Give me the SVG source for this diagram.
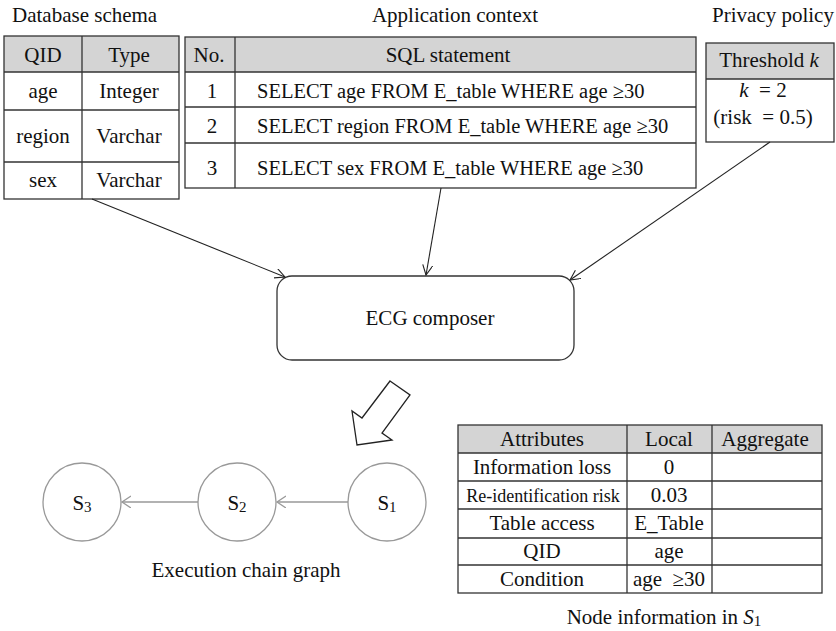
<svg xmlns="http://www.w3.org/2000/svg" width="836" height="631" viewBox="0 0 836 631">
<defs>
<style>
text{font-family:"Liberation Serif","Times New Roman",serif;font-size:21px;fill:#111;}
.c{text-anchor:middle;}
.sql{font-size:20.5px;}
.hd{fill:#d4d4d4;}
.ln{stroke:#333;stroke-width:1.3;fill:none;}
.con{stroke:#222;stroke-width:1.1;fill:none;marker-end:url(#arr);}
.gcon{stroke:#999;stroke-width:1.3;fill:none;marker-end:url(#garr);}
.node{fill:#fff;stroke:#999;stroke-width:1.3;}
.sub{font-size:15px;}
</style>
<marker id="arr" markerUnits="userSpaceOnUse" markerWidth="12" markerHeight="12" refX="10" refY="5" orient="auto">
<path d="M0,0 L10,5 L0,10" fill="none" stroke="#222" stroke-width="1.1"/>
</marker>
<marker id="garr" markerUnits="userSpaceOnUse" markerWidth="12" markerHeight="14" refX="9" refY="6" orient="auto">
<path d="M0,0 L9,6 L0,12" fill="none" stroke="#999" stroke-width="1.3"/>
</marker>
</defs>
<rect width="836" height="631" fill="#fff"/>

<!-- Database schema -->
<g id="db-schema">
<text x="12" y="22">Database schema</text>
<rect x="4" y="36" width="175" height="36" class="hd"/>
<rect x="4" y="36" width="175" height="163" class="ln"/>
<line x1="4" y1="72" x2="179" y2="72" class="ln"/>
<line x1="4" y1="110" x2="179" y2="110" class="ln"/>
<line x1="4" y1="162" x2="179" y2="162" class="ln"/>
<line x1="82" y1="36" x2="82" y2="199" class="ln"/>
<text x="43" y="62" class="c">QID</text>
<text x="129" y="62" class="c">Type</text>
<text x="43" y="98" class="c">age</text>
<text x="129" y="98" class="c">Integer</text>
<text x="43" y="143" class="c">region</text>
<text x="129" y="143" class="c">Varchar</text>
<text x="43" y="187" class="c">sex</text>
<text x="129" y="187" class="c">Varchar</text>
</g>

<!-- Application context -->
<g id="app-context">
<text x="455" y="22" class="c">Application context</text>
<rect x="185" y="37" width="511" height="35" class="hd"/>
<rect x="185" y="37" width="511" height="151" class="ln"/>
<line x1="185" y1="72" x2="696" y2="72" class="ln"/>
<line x1="185" y1="107" x2="696" y2="107" class="ln"/>
<line x1="185" y1="143" x2="696" y2="143" class="ln"/>
<line x1="235" y1="37" x2="235" y2="188" class="ln"/>
<text x="209" y="62" class="c">No.</text>
<text x="448" y="62" class="c">SQL statement</text>
<text x="212" y="98" class="c">1</text>
<text x="212" y="133" class="c">2</text>
<text x="212" y="175" class="c">3</text>
<text x="257" y="98" class="sql">SELECT age FROM E_table WHERE age ≥30</text>
<text x="257" y="133" class="sql">SELECT region FROM E_table WHERE age ≥30</text>
<text x="257" y="175" class="sql">SELECT sex FROM E_table WHERE age ≥30</text>
</g>

<!-- Privacy policy -->
<g id="privacy-policy">
<text x="773" y="22" class="c">Privacy policy</text>
<rect x="706" y="43" width="128" height="36" class="hd"/>
<rect x="706" y="43" width="128" height="99" class="ln"/>
<line x1="706" y1="79" x2="834" y2="79" class="ln"/>
<text x="769" y="67" class="c">Threshold <tspan font-style="italic">k</tspan></text>
<text x="763" y="97" class="c" xml:space="preserve"><tspan font-style="italic">k</tspan>  = 2</text>
<text x="763" y="124" class="c" xml:space="preserve">(risk  = 0.5)</text>
</g>

<!-- ECG composer -->
<g id="ecg-composer">
<rect x="277" y="276" width="297" height="84" rx="15" ry="15" fill="#fff" stroke="#333" stroke-width="1.3"/>
<text x="430" y="325" class="c">ECG composer</text>
</g>

<!-- Hollow arrow -->
<g id="flow-arrow">
<polygon points="390,381 410,395 382,433 392,440 357,445 352,411 362,418" fill="#fff" stroke="#222" stroke-width="1.3" stroke-linejoin="miter"/>
</g>

<!-- Execution chain graph nodes -->
<g id="node-s3">
<circle cx="82" cy="502" r="39" class="node"/>
<text x="82" y="510" class="c">S<tspan class="sub" dy="2">3</tspan></text>
</g>
<g id="node-s2">
<circle cx="237" cy="502" r="39" class="node"/>
<text x="237" y="510" class="c">S<tspan class="sub" dy="2">2</tspan></text>
</g>
<g id="node-s1">
<circle cx="387" cy="502" r="39" class="node"/>
<text x="387" y="510" class="c">S<tspan class="sub" dy="2">1</tspan></text>
</g>
<g id="ecg-caption">
<text x="246" y="577" class="c">Execution chain graph</text>
</g>

<!-- Node information table -->
<g id="node-info">
<rect x="458" y="425" width="364" height="28" class="hd"/>
<rect x="458" y="425" width="364" height="168" class="ln"/>
<line x1="458" y1="453" x2="822" y2="453" class="ln"/>
<line x1="458" y1="481" x2="822" y2="481" class="ln"/>
<line x1="458" y1="509" x2="822" y2="509" class="ln"/>
<line x1="458" y1="538" x2="822" y2="538" class="ln"/>
<line x1="458" y1="565" x2="822" y2="565" class="ln"/>
<line x1="627" y1="425" x2="627" y2="593" class="ln"/>
<line x1="712" y1="425" x2="712" y2="593" class="ln"/>
<text x="542" y="446" class="c">Attributes</text>
<text x="669" y="446" class="c">Local</text>
<text x="765" y="446" class="c">Aggregate</text>
<text x="542" y="474" class="c">Information loss</text>
<text x="669" y="474" class="c">0</text>
<text x="543" y="502" class="c" style="font-size:18px">Re-identification risk</text>
<text x="669" y="502" class="c">0.03</text>
<text x="542" y="530" class="c">Table access</text>
<text x="669" y="530" class="c">E_Table</text>
<text x="542" y="558" class="c">QID</text>
<text x="669" y="558" class="c">age</text>
<text x="542" y="586" class="c">Condition</text>
<text x="669" y="586" class="c" xml:space="preserve">age  ≥30</text>
<text x="664" y="624" class="c">Node information in <tspan font-style="italic">S</tspan><tspan class="sub" dy="2">1</tspan></text>
</g>

<!-- Connectors -->
<g id="connectors">
<line x1="92" y1="199" x2="285" y2="277" class="con"/>
<line x1="441" y1="188" x2="426" y2="275" class="con"/>
<line x1="770" y1="142" x2="570" y2="280" class="con"/>
<line x1="348" y1="502" x2="277" y2="502" class="gcon"/>
<line x1="198" y1="502" x2="122" y2="502" class="gcon"/>
</g>
</svg>
